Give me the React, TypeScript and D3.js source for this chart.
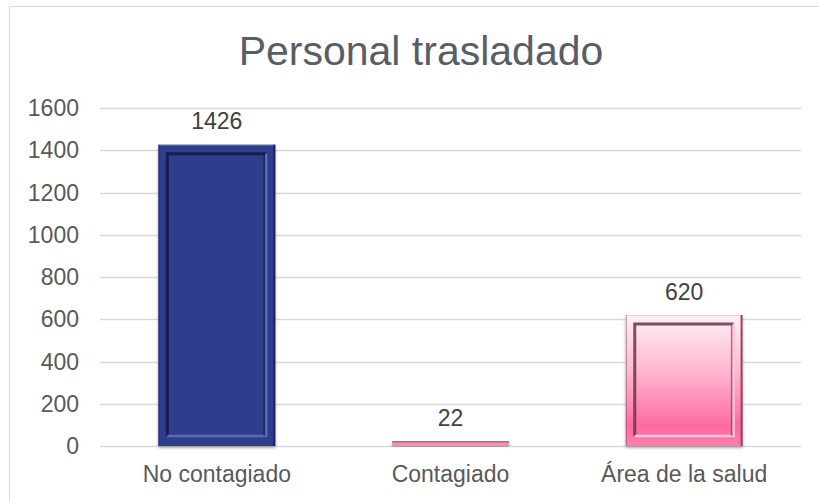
import React, { useEffect, useRef } from "react";
import * as d3 from "d3";

const categories = ["No contagiado", "Contagiado", "Área de la salud"];
const values = [1426, 22, 620];
const yTicks = [0, 200, 400, 600, 800, 1000, 1200, 1400, 1600];
const title = "Personal trasladado";

const W = 819;
const H = 501;
const FONT = "'Liberation Sans', Arial, sans-serif";

const App = () => {
  const chart = useRef<SVGSVGElement | null>(null);

  useEffect(() => {
    const svg = d3.select(chart.current).attr("width", W).attr("height", H);
    svg.selectAll("*").remove();

    const margin = { top: 108, right: 18, bottom: 55, left: 100 };
    const innerW = W - margin.left - margin.right;
    const innerH = H - margin.top - margin.bottom;

    const x = d3
      .scaleBand<string>()
      .domain(categories)
      .range([0, innerW])
      .paddingInner(0.5)
      .paddingOuter(0.25);

    const y = d3.scaleLinear().domain([0, 1600]).range([innerH, 0]);

    const defs = svg.append("defs");
    const pink = defs
      .append("linearGradient")
      .attr("id", "pinkGrad")
      .attr("x1", 0)
      .attr("y1", 0)
      .attr("x2", 0)
      .attr("y2", 1);
    pink.append("stop").attr("offset", "0%").attr("stop-color", "#fff0f6");
    pink.append("stop").attr("offset", "45%").attr("stop-color", "#ffb3cf");
    pink.append("stop").attr("offset", "85%").attr("stop-color", "#ff69a0");
    pink.append("stop").attr("offset", "100%").attr("stop-color", "#ff7eaf");

    const shadow = defs.append("filter").attr("id", "shadow").attr("height", "130%");
    shadow
      .append("feDropShadow")
      .attr("dx", 0)
      .attr("dy", 2)
      .attr("stdDeviation", 1.5)
      .attr("flood-color", "#000")
      .attr("flood-opacity", 0.3);

    // chart border
    svg
      .append("rect")
      .attr("x", 9.5)
      .attr("y", 6.5)
      .attr("width", W)
      .attr("height", H)
      .attr("fill", "white")
      .attr("stroke", "#d9d9d9")
      .attr("stroke-width", 1);

    svg
      .append("text")
      .attr("x", 421)
      .attr("y", 64.5)
      .attr("text-anchor", "middle")
      .attr("font-family", FONT)
      .attr("font-size", 41)
      .attr("fill", "#5a5d63")
      .text(title);

    const g = svg
      .append("g")
      .attr("transform", `translate(${margin.left}, ${margin.top})`);

    // gridlines
    g.append("g")
      .selectAll("line")
      .data(yTicks)
      .join("line")
      .attr("x1", 0)
      .attr("x2", innerW)
      .attr("y1", (d) => Math.round(y(d)) + 0.5)
      .attr("y2", (d) => Math.round(y(d)) + 0.5)
      .attr("stroke", "#d9d9d9")
      .attr("stroke-width", 1.5);

    // y tick labels
    g.append("g")
      .selectAll("text")
      .data(yTicks)
      .join("text")
      .attr("x", -21)
      .attr("y", (d) => y(d))
      .attr("dy", "0.35em")
      .attr("text-anchor", "end")
      .attr("font-family", FONT)
      .attr("font-size", 23)
      .attr("fill", "#595959")
      .text((d) => d);

    // x labels
    g.append("g")
      .selectAll("text")
      .data(categories)
      .join("text")
      .attr("x", (d) => x(d)! + x.bandwidth() / 2)
      .attr("y", innerH + 36)
      .attr("text-anchor", "middle")
      .attr("font-family", FONT)
      .attr("font-size", 23)
      .attr("fill", "#595959")
      .text((d) => d);

    const data = categories.map((c, i) => ({ c, v: values[i], i }));
    const styles = [
      { fill: "#2d3e8c", dark: "#121a48", light: "#5a6ab8", edge: "#1a2460" },
      { fill: "url(#pinkGrad)", dark: "#6a3347", light: "#ffc4da", edge: "#8a4a5e" },
      { fill: "url(#pinkGrad)", dark: "#6a3347", light: "#ffc4da", edge: "#8a4a5e" },
    ];

    const bars = g
      .append("g")
      .selectAll("g")
      .data(data)
      .join("g")
      .attr("filter", "url(#shadow)");

    bars.each(function (d) {
      const b = d3.select(this);
      const s = styles[d.i];
      const bx = x(d.c)!;
      const bw = x.bandwidth();
      const by = y(d.v);
      const bh = innerH - by;

      if (bh < 20) {
        b.append("rect")
          .attr("x", bx)
          .attr("y", by)
          .attr("width", bw)
          .attr("height", bh)
          .attr("fill", "#f48fb3");
        b.append("line")
          .attr("x1", bx)
          .attr("x2", bx + bw)
          .attr("y1", by + 0.5)
          .attr("y2", by + 0.5)
          .attr("stroke", "#c2607f")
          .attr("stroke-width", 1.5);
        return;
      }

      b.append("rect")
        .attr("x", bx)
        .attr("y", by)
        .attr("width", bw)
        .attr("height", bh)
        .attr("fill", s.fill);
      // outer edges
      b.append("line")
        .attr("x1", bx)
        .attr("x2", bx + bw)
        .attr("y1", by + 0.5)
        .attr("y2", by + 0.5)
        .attr("stroke", s.light)
        .attr("stroke-width", 1);
      b.append("line")
        .attr("x1", bx + bw - 1)
        .attr("x2", bx + bw - 1)
        .attr("y1", by)
        .attr("y2", by + bh)
        .attr("stroke", s.edge)
        .attr("stroke-width", 2);
      b.append("line")
        .attr("x1", bx + 0.5)
        .attr("x2", bx + 0.5)
        .attr("y1", by)
        .attr("y2", by + bh)
        .attr("stroke", s.edge)
        .attr("stroke-width", 1)
        .attr("opacity", 0.6);

      // inner bevel frame
      const ins = 9;
      const ix = bx + ins;
      const iy = by + ins;
      const iw = bw - ins * 2;
      const ih = bh - ins * 2 - 1;
      b.append("path")
        .attr("d", `M${ix},${iy + ih} V${iy} H${ix + iw}`)
        .attr("fill", "none")
        .attr("stroke", s.dark)
        .attr("stroke-width", 3)
        .attr("opacity", 0.85);
      b.append("path")
        .attr("d", `M${ix + iw},${iy} V${iy + ih} H${ix}`)
        .attr("fill", "none")
        .attr("stroke", s.light)
        .attr("stroke-width", 2.5);
      b.append("line")
        .attr("x1", ix + iw - 2)
        .attr("x2", ix + iw - 2)
        .attr("y1", iy)
        .attr("y2", iy + ih)
        .attr("stroke", s.dark)
        .attr("stroke-width", 1.5)
        .attr("opacity", 0.6);
    });

    // value labels
    g.append("g")
      .selectAll("text")
      .data(data)
      .join("text")
      .attr("x", (d) => x(d.c)! + x.bandwidth() / 2)
      .attr("y", (d) => y(d.v) - 15.5)
      .attr("text-anchor", "middle")
      .attr("font-family", FONT)
      .attr("font-size", 23)
      .attr("fill", "#404040")
      .text((d) => d.v);
  });

  return (
    <div style={{ position: "absolute", left: 0, top: 0 }}>
      <svg ref={chart} style={{ display: "block" }}></svg>
    </div>
  );
};

export default App;
